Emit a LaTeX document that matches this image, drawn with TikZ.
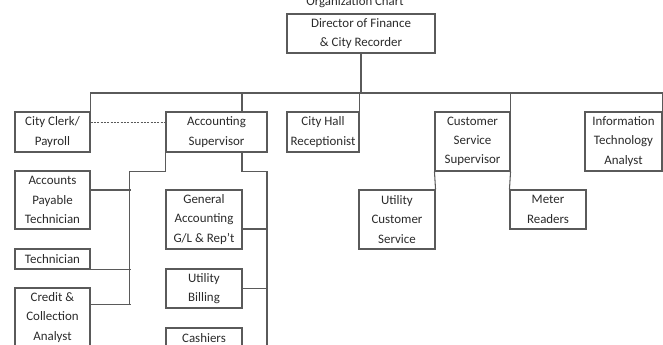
\documentclass[tikz,border=0pt]{standalone}
\usepackage{fontspec}
\setmainfont{Carlito}
\usepackage{xcolor}
\usepackage{tikz}
\usetikzlibrary{positioning}
\definecolor{LineGray}{HTML}{5A5A5A}
\definecolor{TextGray}{HTML}{2A2A2A}

\begin{document}
\begin{tikzpicture}[
      x=0.75pt, y=-0.75pt,
      box/.style = {rectangle, draw=LineGray, line width=0.8pt, inner sep=0pt,
        align=center, text=TextGray, font=\fontsize{9.7}{14.5}\selectfont},
      conn/.style = {draw=LineGray, line width=0.8pt}
    ]
    \useasboundingbox (0,0) rectangle (663,345);
    \clip (0,0) rectangle (663,345);
    \coordinate (bus) at (0,93);
    \node (T) [anchor=base, text=TextGray, font=\fontsize{9.6}{12}\selectfont]
      at (355,5.5) {Organization Chart};
    \node (D) [box, minimum width=111pt, minimum height=29.25pt] at (361,33.5)
      {Director of Finance\\\& City Recorder};
    % first level
    \node (CC) [box, minimum width=56.25pt, minimum height=30pt] at (52.5,132)
      {City Clerk/\\Payroll};
    \node (AS) [box, minimum width=75.75pt, minimum height=30pt] at (216.5,132)
      {Accounting\\Supervisor};
    \node (HR) [box, minimum width=54pt, minimum height=30pt] at (323,132)
      {City Hall\\Receptionist};
    \node (CS) [box, minimum width=56.25pt, minimum height=44.25pt] at (472.5,141.5)
      {Customer\\Service\\Supervisor};
    \node (IT) [box, minimum width=57.75pt, minimum height=44.25pt] at (623.5,141.5)
      {Information\\Technology\\Analyst};
    % under accounting
    \node (AP) [box, minimum width=56.25pt, minimum height=43.5pt] at (52.5,200)
      {Accounts\\Payable\\Technician};
    \node (TE) [box, minimum width=56.25pt, minimum height=15pt] at (52.5,259)
      {Technician};
    \node (CA) [box, minimum width=56.25pt, minimum height=44.25pt] at (52.5,317.5)
      {Credit \&\\Collection\\Analyst};
    \node (GA) [box, minimum width=57pt, minimum height=44.25pt] at (204,219.5)
      {General\\Accounting\\G/L \& Rep't};
    \node (UB) [box, minimum width=57pt, minimum height=29.25pt] at (204,288.5)
      {Utility\\Billing};
    \node (CH) [box, minimum width=57pt, minimum height=15pt] at (204,338)
      {Cashiers};
    % under customer service
    \node (UC) [box, minimum width=57pt, minimum height=44.25pt] at (397,219.5)
      {Utility\\Customer\\Service};
    \node (MR) [box, minimum width=57pt, minimum height=29.25pt] at (548,209.5)
      {Meter\\Readers};
    % bus
    \draw [conn] (D.south) -- (D.south |- bus);
    \draw [conn] (CC.north east) -- (CC.north east |- bus) -- (IT.north east |- bus)
      -- (IT.north east);
    \draw [conn] ([xshift=19.1pt]AS.north) -- ++(0,-19);
    \draw [conn] (HR.north east) -- (HR.north east |- bus);
    \draw [conn] (CS.north east) -- (CS.north east |- bus);
    \draw [conn, dash pattern=on 1.5pt off 1pt, line width=0.6pt]
      ([yshift=7.5pt]CC.east) -- ([yshift=7.5pt]AS.west);
    % accounting branches
    \draw [conn] (AS.south west) -- ++(0,19) -- ++(-36,0) -- ++(0,133);
    \draw [conn] ([yshift=7.5pt]AP.east) -- ++(40,0);
    \draw [conn] (TE.south east) -- ++(40,0);
    \draw [conn] ([yshift=10.1pt]CA.east) -- ++(40,0);
    \draw [conn] ([xshift=19.1pt]AS.south) -- ++(0,19) -- ++(25,0) -- ++(0,190);
    \draw [conn] ([yshift=-7.1pt]GA.east) -- ++(25,0);
    \draw [conn] (UB.east) -- ++(25,0);
    % customer service branches
    \draw [conn] (CS.south west) -- (UC.north east);
    \draw [conn] (CS.south east) -- (MR.north west);
  \end{tikzpicture}
\end{document}
